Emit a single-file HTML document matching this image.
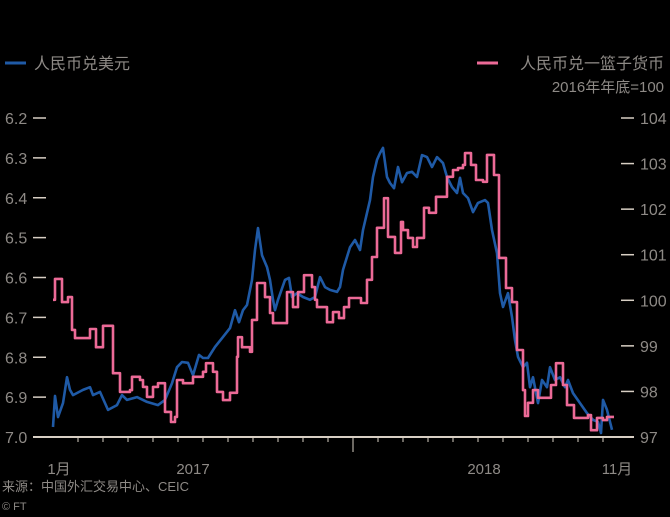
<!DOCTYPE html>
<html><head><meta charset="utf-8">
<style>
html,body{margin:0;padding:0;background:#000;}
svg{display:block;font-family:"Liberation Sans","Noto Sans CJK SC",sans-serif;}
</style></head>
<body>
<svg id="chart" width="670" height="517" viewBox="0 0 670 517" xmlns="http://www.w3.org/2000/svg">
<rect width="670" height="517" fill="#000"/>
<g>
<line x1="5" y1="63" x2="26" y2="63" stroke="#1f5aa6" stroke-width="3"/>
<text x="34" y="69" font-size="16" fill="#8e8a86">人民币兑美元</text>
</g>
<g>
<line x1="477" y1="63" x2="498" y2="63" stroke="#ec6a97" stroke-width="3"/>
<text x="664" y="69" font-size="16" fill="#8e8a86" text-anchor="end">人民币兑一篮子货币</text>
<text x="664" y="92" font-size="15" fill="#8e8a86" text-anchor="end">2016年年底=100</text>
</g>
<g id="axes"></g>
<g id="series"></g>
<text x="2" y="491" font-size="13" fill="#8e8a86">来源：中国外汇交易中心、CEIC</text>
<text x="2" y="510" font-size="11" fill="#8e8a86">© FT</text>
</svg>
<script>
const leftTicks = [6.2, 6.3, 6.4, 6.5, 6.6, 6.7, 6.8, 6.9, 7.0];
const leftTickLabels = ["6.2","6.3","6.4","6.5","6.6","6.7","6.8","6.9","7.0"];
const rightTicks = [104, 103, 102, 101, 100, 99, 98, 97];
const monthTicks = [1,2,3,4,5,6,7,8,9,10,11,12,13,14,15,16,17,18,19,20,21,22];
const majorTick = 12;
const xLabels = ["1月","2017","2018","11月"];
const xLabelPos = [0.24, 5.6, 17.24, 22.56];

const usdT = [0,.08,.2,.4,.56,.68,.8,1.2,1.48,1.6,1.88,2.2,2.56,2.76,2.96,3.36,3.76,4.2,4.48,4.76,4.96,5.16,5.4,5.6,5.84,6.0,6.2,6.48,6.8,7.08,7.28,7.44,7.6,7.76,7.96,8.08,8.2,8.36,8.56,8.68,8.8,8.88,9.0,9.28,9.44,9.56,9.76,10.0,10.28,10.48,10.68,10.88,11.08,11.36,11.48,11.6,11.88,12.08,12.28,12.4,12.56,12.68,12.8,12.96,13.08,13.2,13.36,13.48,13.64,13.8,13.96,14.16,14.36,14.56,14.76,14.96,15.16,15.36,15.6,15.76,15.96,16.16,16.28,16.4,16.6,16.8,17.0,17.28,17.4,17.56,17.76,17.88,18.0,18.2,18.36,18.48,18.6,18.8,18.96,19.08,19.2,19.4,19.56,19.76,19.88,20.08,20.28,20.48,20.6,20.8,21.08,21.36,21.6,21.8,21.92,22.0,22.16,22.36];
const usdV = [6.975,6.897,6.950,6.915,6.850,6.882,6.895,6.882,6.875,6.895,6.887,6.932,6.920,6.895,6.907,6.900,6.912,6.920,6.907,6.865,6.825,6.812,6.814,6.845,6.794,6.802,6.802,6.774,6.749,6.727,6.682,6.712,6.682,6.669,6.606,6.531,6.476,6.544,6.574,6.606,6.656,6.682,6.656,6.606,6.601,6.649,6.639,6.649,6.656,6.649,6.599,6.624,6.631,6.636,6.624,6.581,6.524,6.506,6.531,6.481,6.438,6.406,6.348,6.305,6.288,6.275,6.348,6.363,6.376,6.323,6.361,6.338,6.335,6.348,6.293,6.298,6.323,6.298,6.313,6.348,6.373,6.388,6.350,6.388,6.401,6.436,6.413,6.406,6.413,6.481,6.539,6.639,6.674,6.639,6.699,6.757,6.799,6.825,6.814,6.875,6.850,6.915,6.857,6.875,6.825,6.857,6.850,6.875,6.857,6.890,6.915,6.940,6.957,6.962,6.990,6.907,6.932,6.982];

const basketT = [0,.08,.36,.6,.76,.88,1.48,1.72,2.0,2.4,2.68,3.08,3.16,3.48,3.6,3.76,4.0,4.2,4.48,4.72,4.88,4.96,5.2,5.6,6.0,6.12,6.4,6.56,6.8,7.08,7.36,7.4,7.56,7.88,7.96,8.16,8.48,8.68,8.8,9.36,9.6,9.8,10.04,10.36,10.48,10.56,10.96,11.2,11.44,11.64,11.84,12.32,12.56,12.76,12.96,13.24,13.4,13.68,13.92,14.0,14.2,14.4,14.56,14.84,15.04,15.32,15.76,16.0,16.2,16.4,16.48,16.72,16.92,17.2,17.36,17.64,17.84,18.12,18.36,18.56,18.8,18.88,19.0,19.2,19.4,19.92,20.12,20.4,20.56,20.84,21.4,21.52,21.76,22.0,22.16,22.44];
const basketV = [100.01,100.47,99.96,100.07,99.35,99.17,99.37,98.97,99.44,98.40,97.99,98.03,98.32,98.25,98.10,97.88,98.10,98.18,97.55,97.33,97.44,98.25,98.18,98.32,98.43,98.62,98.43,97.99,97.81,97.97,98.76,99.19,98.97,98.87,99.57,100.38,100.07,99.72,99.50,100.18,99.85,100.18,100.55,100.29,100.01,99.85,99.52,99.74,99.61,99.85,100.05,99.94,100.45,100.95,101.59,102.24,101.39,101.04,101.72,101.54,101.37,101.17,101.37,102.03,101.92,102.27,102.71,102.86,102.90,102.97,103.23,102.97,102.64,102.60,103.19,102.75,100.93,100.27,99.96,98.91,98.03,97.46,97.75,98.03,97.86,98.14,98.62,98.14,97.70,97.42,97.48,97.15,97.42,97.37,97.44,97.44];

const NS = "http://www.w3.org/2000/svg";
const xS = t => 53 + t * 25;
const yL = v => 118 + (v - 6.2) / 0.8 * 319;
const yR = v => 118 + (104 - v) / 7 * 319;
function mk(tag, attrs, parent) {
  const e = document.createElementNS(NS, tag);
  for (const k in attrs) e.setAttribute(k, attrs[k]);
  parent.appendChild(e);
  return e;
}
const axes = document.getElementById('axes');
const series = document.getElementById('series');
const axisCol = "#d8cfc4", textCol = "#8e8a86";

leftTicks.forEach((v, i) => {
  const y = yL(v);
  if (i < leftTicks.length - 1) {
    const l = mk('line', {x1: 33, x2: 46, y1: y, y2: y, stroke: axisCol, 'stroke-width': 1.5}, axes);
    
    
  }
  const t = mk('text', {x: 5, y: y + 6, 'font-size': 16, fill: textCol}, axes);
  t.textContent = leftTickLabels[i];
  
  
});
rightTicks.forEach((v, i) => {
  const y = yR(v);
  if (i < rightTicks.length - 1) {
    const l = mk('line', {x1: 621, x2: 634, y1: y, y2: y, stroke: axisCol, 'stroke-width': 1.5}, axes);
    
    
  }
  const t = mk('text', {x: 640, y: y + 6, 'font-size': 16, fill: textCol}, axes);
  t.textContent = String(v);
  
  
});
const base = mk('line', {x1: 33, x2: 634, y1: 437, y2: 437, stroke: axisCol, 'stroke-width': 2}, axes);


monthTicks.forEach(m => {
  const x = xS(m);
  const l = mk('line', {x1: x, x2: x, y1: 437, y2: m === majorTick ? 452 : 442, stroke: axisCol, 'stroke-width': 1}, axes);
  
  
});
xLabels.forEach((s, i) => {
  const t = mk('text', {x: xS(xLabelPos[i]), y: 474, 'font-size': 15, fill: textCol, 'text-anchor': 'middle'}, axes);
  t.textContent = s;
  
  
});

let d = usdT.map((t, i) => (i ? 'L' : 'M') + xS(t).toFixed(1) + ',' + yL(usdV[i]).toFixed(1)).join('');
const usd = mk('path', {d: d, fill: 'none', stroke: '#1f5aa6', 'stroke-width': 2.6, 'stroke-linejoin': 'round'}, series);



let pd = '';
basketT.forEach((t, i) => {
  const x = xS(t).toFixed(1), y = yR(basketV[i]).toFixed(1);
  if (i === 0) pd += 'M' + x + ',' + y;
  else pd += 'H' + x + 'V' + y;
});
const bk = mk('path', {d: pd, fill: 'none', stroke: '#ec6a97', 'stroke-width': 2.6, 'stroke-linejoin': 'round'}, series);


</script>
</body></html>
